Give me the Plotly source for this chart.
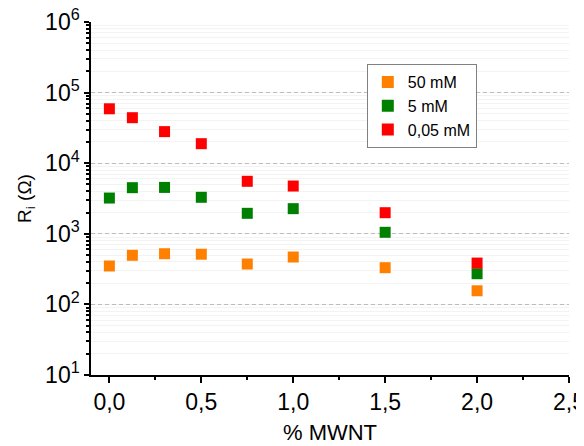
import plotly.graph_objects as go

x_vals = [0.0, 0.125, 0.3, 0.5, 0.75, 1.0, 1.5, 2.0]
r_50mM = [350, 496, 522, 514, 373, 469, 331, 156]
r_5mM = [3210, 4500, 4540, 3290, 1950, 2270, 1050, 272]
r_005mM = [59000, 44100, 28000, 18900, 5540, 4750, 1990, 385]

series_names = ["50 mM", "5 mM", "0,05 mM"]
series_colors = ["#FF8000", "#008000", "#FF0000"]

x_tickvals = [0.0, 0.5, 1.0, 1.5, 2.0, 2.5]
x_ticktext = ["0,0", "0,5", "1,0", "1,5", "2,0", "2,5"]
y_tickvals = [10, 100, 1000, 10000, 100000, 1000000]
y_ticktext = ["10<sup>1</sup>", "10<sup>2</sup>", "10<sup>3</sup>", "10<sup>4</sup>", "10<sup>5</sup>", "10<sup>6</sup>"]

fig = go.Figure()
for name, ys, col in zip(series_names, [r_50mM, r_5mM, r_005mM], series_colors):
    fig.add_trace(go.Scatter(
        x=x_vals, y=ys, mode="markers", name=name,
        marker=dict(symbol="square", size=11, color=col, line=dict(width=0)),
    ))

font_family = "Liberation Sans"
fig.update_layout(
    width=584, height=446,
    margin=dict(l=83, r=23, t=14, b=79),
    paper_bgcolor="white", plot_bgcolor="white",
    font=dict(family=font_family, size=23, color="black"),
    showlegend=True,
    legend=dict(
        x=0.577, y=0.881, xanchor="left", yanchor="top",
        bordercolor="#808080", borderwidth=1, bgcolor="white",
        font=dict(size=16, family=font_family),
        itemsizing="constant", tracegroupgap=0,
    ),
    xaxis=dict(
        range=[-0.1, 2.5], automargin=False, ticklabeloverflow="allow",
        tickvals=x_tickvals, ticktext=x_ticktext,
        showline=True, linecolor="black", linewidth=1.5,
        ticks="outside", ticklen=6, tickwidth=1.5, tickcolor="black",
        showgrid=False, zeroline=False,
        minor=dict(dtick=0.25, ticks="outside", ticklen=3, tickcolor="black", showgrid=False),
        title=dict(text="% MWNT", font=dict(size=22), standoff=10),
        tickfont=dict(size=23),
    ),
    yaxis=dict(
        type="log", range=[1, 6], automargin=False, ticklabeloverflow="allow",
        tickvals=y_tickvals, ticktext=y_ticktext,
        showline=True, linecolor="black", linewidth=1.5,
        ticks="outside", ticklen=5, tickwidth=1.5, tickcolor="black",
        showgrid=True, gridcolor="#bdbdbd", griddash="4px,3px", gridwidth=1,
        zeroline=False,
        minor=dict(dtick="D1", ticks="outside", ticklen=3, tickcolor="black",
                   showgrid=True, gridcolor="#f3f3f3", gridwidth=1, griddash="solid"),
        title=dict(text="R<sub>i</sub> (Ω)", font=dict(size=19), standoff=8),
        tickfont=dict(size=23),
    ),
)

fig.write_html("out.html")
